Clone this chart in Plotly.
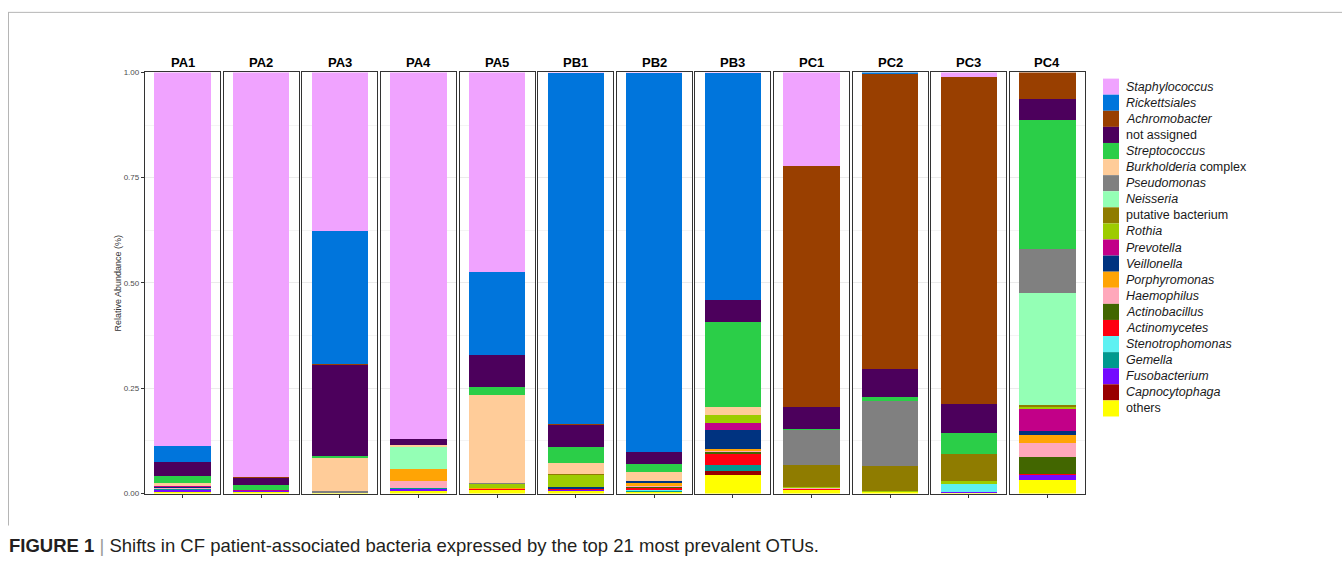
import plotly.graph_objects as go
from plotly.subplots import make_subplots

# Samples (one facet each)
samples = ["PA1", "PA2", "PA3", "PA4", "PA5", "PB1", "PB2", "PB3", "PC1", "PC2", "PC3", "PC4"]

# Relative abundance per taxon, one value per sample (same order as `samples`)
staphylococcus   = [0.887, 0.960, 0.377, 0.871, 0.475, 0.002, 0.002, 0.002, 0.222, 0.000, 0.012, 0.000]
rickettsiales    = [0.039, 0.000, 0.315, 0.000, 0.196, 0.834, 0.900, 0.539, 0.000, 0.003, 0.000, 0.000]
achromobacter    = [0.000, 0.003, 0.002, 0.000, 0.000, 0.002, 0.000, 0.000, 0.572, 0.701, 0.775, 0.063]
not_assigned     = [0.032, 0.017, 0.217, 0.014, 0.077, 0.052, 0.027, 0.051, 0.052, 0.067, 0.069, 0.049]
streptococcus    = [0.017, 0.011, 0.005, 0.000, 0.019, 0.037, 0.019, 0.203, 0.002, 0.010, 0.049, 0.308]
burkholderia     = [0.006, 0.001, 0.079, 0.004, 0.209, 0.026, 0.023, 0.018, 0.000, 0.000, 0.000, 0.000]
pseudomonas      = [0.001, 0.000, 0.004, 0.000, 0.002, 0.000, 0.000, 0.000, 0.084, 0.153, 0.000, 0.104]
neisseria        = [0.000, 0.000, 0.000, 0.052, 0.000, 0.000, 0.000, 0.000, 0.000, 0.000, 0.000, 0.266]
putative         = [0.000, 0.000, 0.000, 0.000, 0.000, 0.002, 0.000, 0.000, 0.053, 0.060, 0.066, 0.005]
rothia           = [0.000, 0.000, 0.000, 0.000, 0.008, 0.030, 0.000, 0.019, 0.002, 0.002, 0.007, 0.003]
prevotella       = [0.002, 0.002, 0.000, 0.000, 0.000, 0.000, 0.000, 0.017, 0.000, 0.000, 0.000, 0.054]
veillonella      = [0.003, 0.000, 0.000, 0.000, 0.000, 0.004, 0.004, 0.044, 0.000, 0.000, 0.000, 0.008]
porphyromonas    = [0.000, 0.000, 0.000, 0.030, 0.002, 0.000, 0.006, 0.006, 0.000, 0.000, 0.000, 0.021]
haemophilus      = [0.003, 0.000, 0.000, 0.016, 0.000, 0.000, 0.003, 0.003, 0.002, 0.000, 0.000, 0.032]
actinobacillus   = [0.000, 0.000, 0.000, 0.000, 0.000, 0.000, 0.003, 0.004, 0.000, 0.000, 0.000, 0.041]
actinomycetes    = [0.000, 0.000, 0.000, 0.000, 0.003, 0.002, 0.004, 0.027, 0.002, 0.000, 0.000, 0.002]
stenotrophomonas = [0.000, 0.000, 0.000, 0.000, 0.000, 0.000, 0.003, 0.000, 0.000, 0.000, 0.019, 0.000]
gemella          = [0.002, 0.000, 0.000, 0.001, 0.000, 0.000, 0.003, 0.013, 0.000, 0.000, 0.000, 0.000]
fusobacterium    = [0.003, 0.002, 0.000, 0.007, 0.000, 0.002, 0.000, 0.000, 0.000, 0.000, 0.002, 0.011]
capnocytophaga   = [0.000, 0.000, 0.000, 0.000, 0.000, 0.000, 0.000, 0.010, 0.000, 0.000, 0.000, 0.000]
others           = [0.005, 0.004, 0.001, 0.005, 0.009, 0.007, 0.003, 0.044, 0.009, 0.004, 0.001, 0.033]

# Taxa from top of the stack to the bottom: (legend label, values, colour)
taxa = [
    ("<i>Staphylococcus</i>", staphylococcus, "#F0A3FF"),
    ("<i>Rickettsiales</i>", rickettsiales, "#0075DC"),
    ("<i>Achromobacter</i>", achromobacter, "#993F00"),
    ("not assigned", not_assigned, "#4C005C"),
    ("<i>Streptococcus</i>", streptococcus, "#2BCE48"),
    ("<i>Burkholderia</i> complex", burkholderia, "#FFCC99"),
    ("<i>Pseudomonas</i>", pseudomonas, "#808080"),
    ("<i>Neisseria</i>", neisseria, "#94FFB5"),
    ("putative bacterium", putative, "#8F7C00"),
    ("<i>Rothia</i>", rothia, "#9DCC00"),
    ("<i>Prevotella</i>", prevotella, "#C20088"),
    ("<i>Veillonella</i>", veillonella, "#003380"),
    ("<i>Porphyromonas</i>", porphyromonas, "#FFA405"),
    ("<i>Haemophilus</i>", haemophilus, "#FFA8BB"),
    ("<i>Actinobacillus</i>", actinobacillus, "#426600"),
    ("<i>Actinomycetes</i>", actinomycetes, "#FF0010"),
    ("<i>Stenotrophomonas</i>", stenotrophomonas, "#5EF1F2"),
    ("<i>Gemella</i>", gemella, "#00998F"),
    ("<i>Fusobacterium</i>", fusobacterium, "#740AFF"),
    ("<i>Capnocytophaga</i>", capnocytophaga, "#990000"),
    ("others", others, "#FFFF00"),
]

y_ticks = [0.0, 0.25, 0.5, 0.75, 1.0]
y_minor = [0.125, 0.375, 0.625, 0.875]

W, H = 1342, 564
FONT = "Liberation Sans, Arial, sans-serif"


def fx(px):
    return px / W


def fy(py):
    return 1 - py / H


# facet geometry (pixels)
left, right = 145.0, 1085.0
gap = 3.6
n = len(samples)
pw = (right - left - gap * (n - 1)) / n
top, bottom = 69.5, 497.5

fig = make_subplots(rows=1, cols=n)

for i, s in enumerate(samples):
    # plotly stacks the first trace at the bottom, so add from bottom taxon up
    for label, vals, color in reversed(taxa):
        fig.add_trace(
            go.Bar(
                x=[s], y=[vals[i]], width=0.9,
                marker=dict(color=color, line=dict(width=0)),
                name=label.replace("<i>", "").replace("</i>", ""),
                showlegend=False,
                hovertemplate="%{x}<br>%{fullData.name}: %{y:.3f}<extra></extra>",
            ),
            row=1, col=i + 1,
        )

annotations = []
for i, s in enumerate(samples):
    x0 = left + i * (pw + gap)
    x1 = x0 + pw
    sfx = "" if i == 0 else str(i + 1)
    fig.layout["xaxis" + sfx].update(
        domain=[fx(x0), fx(x1)], range=[-0.6, 0.6],
        showline=True, mirror=True, linecolor="#333333", linewidth=1.3,
        ticks="outside", ticklen=3, tickcolor="#333333", tickwidth=1,
        showticklabels=False, showgrid=False, zeroline=False, fixedrange=True,
    )
    fig.layout["yaxis" + sfx].update(
        domain=[fy(bottom), fy(top)], range=[0, 1],
        tickvals=y_ticks, tickformat=".2f",
        showline=True, mirror=True, linecolor="#333333", linewidth=1.3,
        ticks="outside" if i == 0 else "", ticklen=3, tickcolor="#333333",
        showticklabels=(i == 0),
        tickfont=dict(family=FONT, size=8, color="#4d4d4d"),
        showgrid=True, gridcolor="#ebebeb", gridwidth=1,
        minor=dict(tickvals=y_minor, showgrid=True, gridcolor="#f4f4f4", gridwidth=1),
        zeroline=False, fixedrange=True,
    )
    # facet strip label
    annotations.append(dict(
        x=fx((x0 + x1) / 2), y=fy(59), xref="paper", yref="paper",
        text="<b>%s</b>" % s, showarrow=False, xanchor="center", yanchor="middle",
        font=dict(family=FONT, size=13, color="#000000"),
    ))

# y-axis title
annotations.append(dict(
    x=fx(117.5), y=fy((top + bottom) / 2), xref="paper", yref="paper",
    text="Relative Abundance (%)", textangle=-90, showarrow=False,
    xanchor="center", yanchor="middle",
    font=dict(family=FONT, size=9, color="#333333"),
))

# legend: colour keys with labels
shapes = []
row_h = 16.35
first_c = 84.0
for k, (label, _vals, color) in enumerate(taxa):
    yc = first_c + k * row_h
    shapes.append(dict(
        type="rect", xref="paper", yref="paper",
        x0=fx(1103), x1=fx(1119), y0=fy(yc + row_h / 2), y1=fy(yc - row_h / 2),
        fillcolor=color, line=dict(width=0), layer="above",
    ))
    annotations.append(dict(
        x=fx(1124), y=fy(yc), xref="paper", yref="paper",
        text=label, showarrow=False, xanchor="left", yanchor="middle",
        font=dict(family=FONT, size=12.5, color="#1a1a1a"),
    ))

# frame lines around the figure
shapes.append(dict(type="line", xref="paper", yref="paper",
                   x0=fx(9), x1=1, y0=fy(8.5), y1=fy(8.5),
                   line=dict(color="#b5b5b5", width=1)))
shapes.append(dict(type="line", xref="paper", yref="paper",
                   x0=fx(8.5), x1=fx(8.5), y0=fy(8), y1=fy(530),
                   line=dict(color="#b5b5b5", width=1)))

# caption
annotations.append(dict(
    x=fx(7), y=fy(550), xref="paper", yref="paper",
    text="<b>FIGURE 1</b> <span style='color:#9a9a9a'>|</span> Shifts in CF patient-associated bacteria expressed by the top 21 most prevalent OTUs.",
    showarrow=False, xanchor="left", yanchor="middle",
    font=dict(family=FONT, size=18.5, color="#231f20"),
))

fig.update_layout(
    width=W, height=H,
    margin=dict(l=0, r=0, t=0, b=0),
    barmode="stack",
    paper_bgcolor="white", plot_bgcolor="white",
    showlegend=False,
    annotations=annotations, shapes=shapes,
    font=dict(family=FONT),
)

fig.write_html("out.html")
